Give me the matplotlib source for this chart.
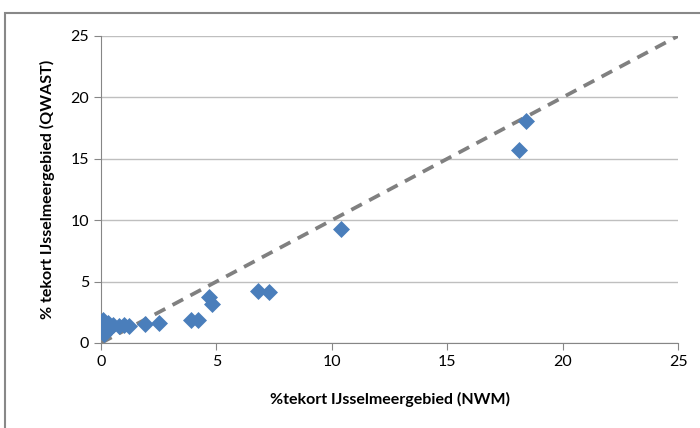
import matplotlib
matplotlib.use('Agg')
import matplotlib.pyplot as plt
from matplotlib.patches import Rectangle

# data
nwm = [0.0, 0.05, 0.1, 0.15, 0.2, 0.3, 0.4, 0.5, 0.8, 1.0, 1.2,
       1.9, 2.5, 3.9, 4.2, 4.7, 4.8, 6.8, 7.3, 10.4, 18.1, 18.4]
qwast = [1.5, 1.0, 1.9, 0.7, 1.3, 1.6, 1.2, 1.5, 1.35, 1.5, 1.35,
         1.55, 1.6, 1.85, 1.85, 3.75, 3.2, 4.2, 4.15, 9.3, 15.7, 18.05]
line_x = [0, 25]
line_y = [0, 25]
ticks = [0, 5, 10, 15, 20, 25]

plt.rcParams['font.family'] = ['Lato', 'DejaVu Sans']

fig = plt.figure(figsize=(7, 4.28), dpi=100)
ax = fig.add_axes([0.1443, 0.1986, 0.8243, 0.7173])

ax.plot(line_x, line_y, linestyle=(0, (3.2, 2.2)), color='#808080',
        linewidth=2.7, zorder=2)
ax.scatter(nwm, qwast, marker='D', s=75, color='#4a7ebb', linewidth=0,
           zorder=3)

ax.set_xlim(0, 25)
ax.set_ylim(0, 25)
ax.set_xticks(ticks)
ax.set_yticks(ticks)
ax.yaxis.grid(True, color='#bfbfbf', linewidth=1)
ax.set_axisbelow(True)
for side in ['top', 'right']:
    ax.spines[side].set_visible(False)
for side in ['left', 'bottom']:
    ax.spines[side].set_color('#868686')
ax.tick_params(colors='#868686', labelcolor='black', labelsize=11.5,
               length=5, direction='out')

ax.set_xlabel('%tekort IJsselmeergebied (NWM)', fontsize=11.5,
              fontweight='bold', labelpad=17)
ax.set_ylabel('% tekort IJsselmeergebied (QWAST)', fontsize=11.5,
              fontweight='bold', labelpad=11)

# outer chart frame
fig.patches.append(Rectangle((5 / 700, -0.1), 1.2, (428 - 13) / 428 + 0.1,
                             transform=fig.transFigure, fill=False,
                             edgecolor='#888888', linewidth=1.5))

fig.savefig('out.png', dpi=100)
